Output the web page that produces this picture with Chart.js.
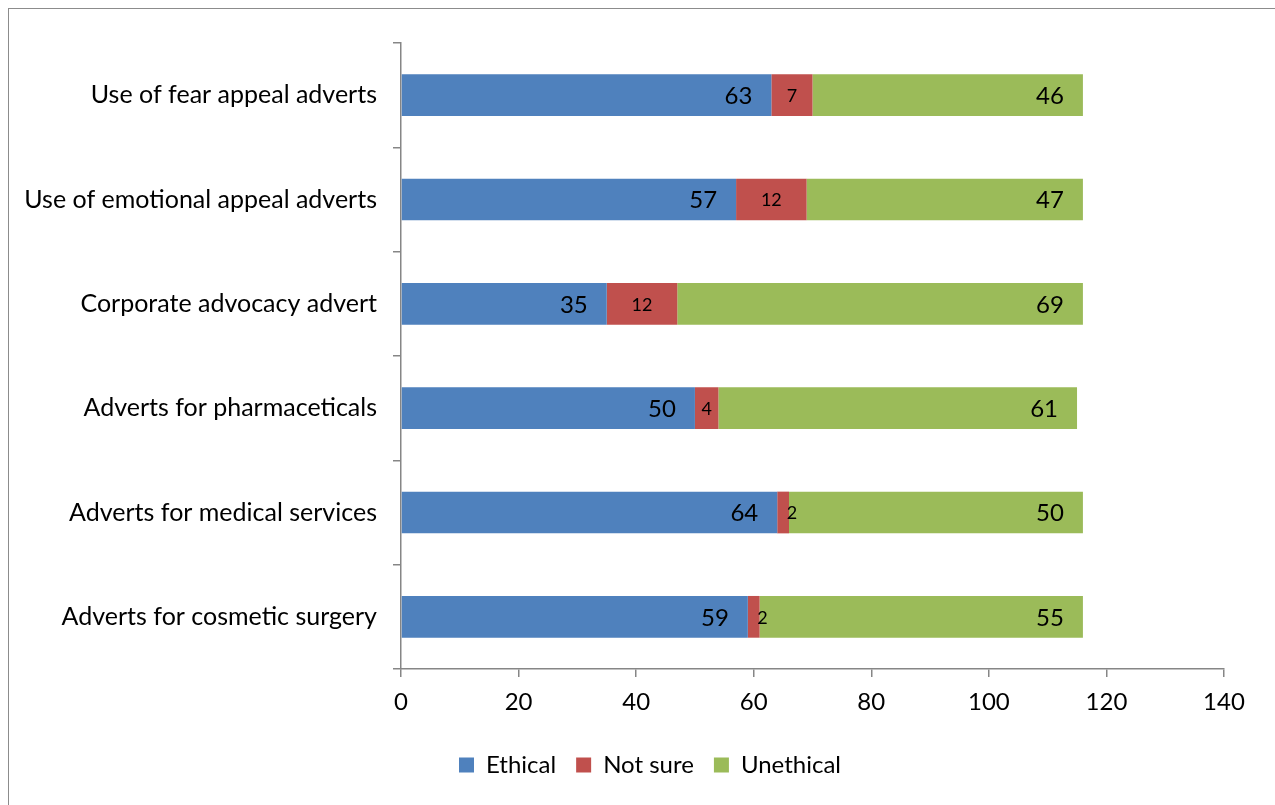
<!DOCTYPE html>
<html>
<head>
<meta charset="utf-8">
<script src="https://cdn.jsdelivr.net/npm/chart.js@4/dist/chart.umd.min.js"></script>
<style>
  body { margin: 0; background: #fff; overflow: hidden; }
  #wrap { position: relative; width: 1275px; height: 805px; }
  #frame { position: absolute; left: 8px; top: 8px; width: 1290px; height: 820px; border: 1px solid #8c8c8c; }
  canvas { position: absolute; left: 0; top: 0; }
</style>
</head>
<body>
<div id="wrap">
  <div id="frame"></div>
  <canvas id="chart" width="1275" height="805"></canvas>
</div>
<script>
// categories, top to bottom
const categories = [
    "Use of fear appeal adverts",
    "Use of emotional appeal adverts",
    "Corporate advocacy advert",
    "Adverts for pharmaceticals",
    "Adverts for medical services",
    "Adverts for cosmetic surgery"
];
const ethical = [63, 57, 35, 50, 64, 59];
const notSure = [7, 12, 12, 4, 2, 2];
const unethical = [46, 47, 69, 61, 50, 55];
const xTicks = [0, 20, 40, 60, 80, 100, 120, 140];

const FONT = "Lato, 'Open Sans', sans-serif";
const AXIS = '#868686';

// simple value labels drawn on the bars
const barLabels = {
    id: 'barLabels',
    afterDatasetsDraw(chart) {
        const ctx = chart.ctx;
        ctx.save();
        ctx.fillStyle = '#000';
        ctx.textBaseline = 'middle';
        chart.data.datasets.forEach((ds, i) => {
            const meta = chart.getDatasetMeta(i);
            meta.data.forEach((bar, j) => {
                const v = ds.data[j];
                const start = Math.min(bar.x, bar.base);
                const end = Math.max(bar.x, bar.base);
                if (i === 1) {
                    ctx.font = "18px " + FONT;
                    ctx.textAlign = 'center';
                    const x = (end - start) < 20 ? end + 3 : (start + end) / 2;
                    ctx.fillText(v, x, bar.y + 1);
                } else {
                    ctx.font = "24px " + FONT;
                    ctx.textAlign = 'right';
                    ctx.fillText(v, end - 19, bar.y + 1);
                }
            });
        });
        ctx.restore();
    }
};

// nudge the legend right so it sits under the plot like the original
const legendShift = {
    id: 'legendShift',
    afterLayout(chart) {
        const l = chart.legend;
        if (l) { l.left += 38; l.right += 38; }
    }
};

const config = {
    type: 'bar',
    data: {
        labels: categories,
        datasets: [
            { label: 'Ethical', data: ethical, backgroundColor: '#4F81BD' },
            { label: 'Not sure', data: notSure, backgroundColor: '#C0504D' },
            { label: 'Unethical', data: unethical, backgroundColor: '#9BBB59' }
        ]
    },
    options: {
        indexAxis: 'y',
        responsive: false,
        animation: false,
        datasets: { bar: { categoryPercentage: 1, barPercentage: 0.4, borderWidth: 0 } },
        layout: { padding: { top: 43, right: 51, left: 0, bottom: 18 } },
        plugins: {
            legend: {
                position: 'bottom',
                labels: {
                    color: '#000',
                    font: { family: FONT, size: 24 },
                    boxWidth: 15, boxHeight: 15,
                    padding: 20
                }
            },
            tooltip: { enabled: false }
        },
        scales: {
            x: {
                stacked: true,
                min: 0, max: 140,
                afterBuildTicks: s => { s.ticks = xTicks.map(v => ({ value: v })); },
                afterFit: s => { s.height = 64; },
                grid: { drawOnChartArea: false, color: AXIS, tickLength: 8, lineWidth: 1.5 },
                border: { color: AXIS, width: 1.5 },
                ticks: { color: '#000', font: { family: FONT, size: 24 }, padding: 11 }
            },
            y: {
                stacked: true,
                afterFit: s => { s.width = 401; },
                grid: { drawOnChartArea: false, color: AXIS, tickLength: 8, lineWidth: 1.5 },
                border: { color: AXIS, width: 1.5 },
                ticks: { color: '#000', font: { family: FONT, size: 25 }, padding: 16 }
            }
        }
    },
    plugins: [barLabels, legendShift]
};

const ctx = document.getElementById('chart').getContext('2d');
const chart = new Chart(ctx, config);
</script>
</body>
</html>
